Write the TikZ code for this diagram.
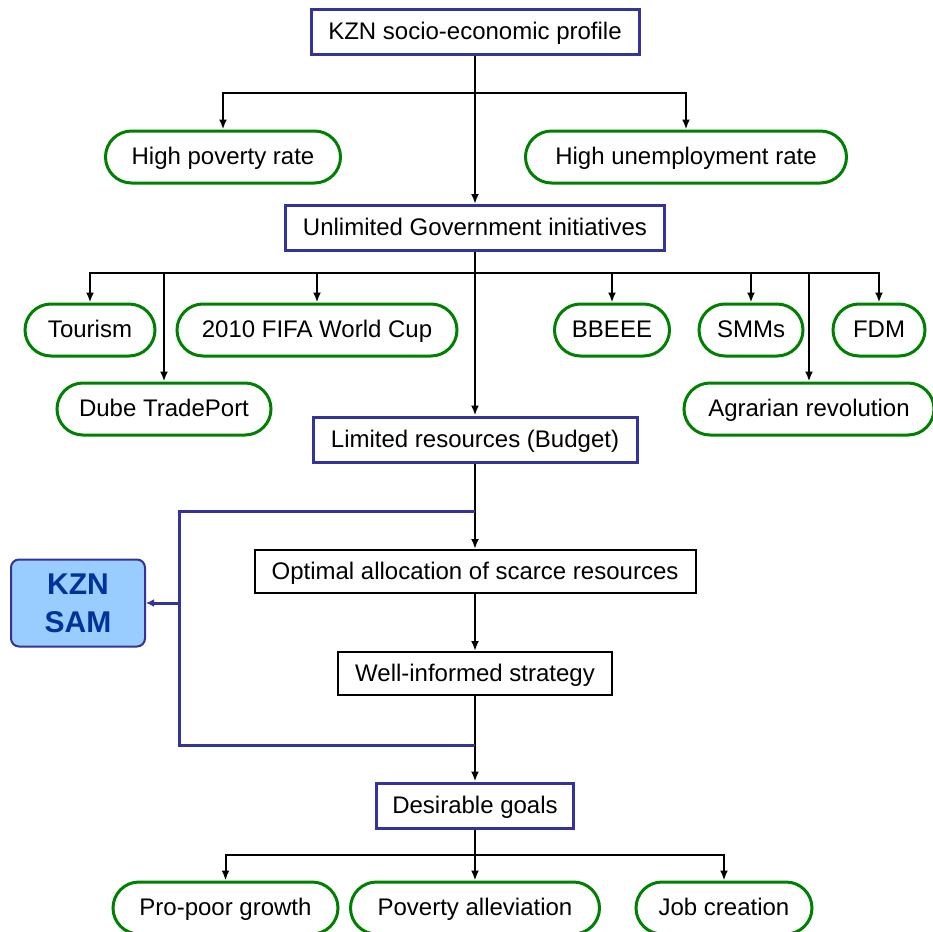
\documentclass[tikz,border=0pt]{standalone}
\usepackage{fontspec}
\setmainfont{Liberation Sans}
\usetikzlibrary{arrows.meta}
\usepackage{xcolor}
\definecolor{boxblue}{RGB}{51,51,153}
\definecolor{pillgreen}{RGB}{0,128,0}
\definecolor{samfill}{RGB}{153,204,255}
\definecolor{samtext}{RGB}{0,51,153}

\begin{document}
\begin{tikzpicture}[x=0.5pt,y=-0.5pt,
    font=\fontsize{12}{14}\selectfont,
    every node/.style={text height=8.8pt,text depth=1.2pt},
    bluebox/.style={draw=boxblue,line width=1.5pt,minimum height=22.5pt,inner sep=0pt},
    blackbox/.style={draw=black,line width=1pt,minimum height=21.5pt,inner sep=0pt},
    pill/.style={draw=pillgreen,line width=1.5pt,rounded corners=13pt,minimum height=26pt,inner sep=0pt},
    arr/.style={-{Latex[length=5pt,width=4pt]},line width=1pt},
    fb/.style={draw=boxblue,line width=1.5pt},
    fbarr/.style={fb,-{Latex[length=4pt,width=4pt]}}]
    \useasboundingbox (0,0) rectangle (933,932);

    \node[bluebox,minimum width=164pt] (prof) at (475,32) {KZN socio-economic profile};
    \node[pill,minimum width=117.5pt] (pov) at (223,157) {High poverty rate};
    \node[pill,minimum width=160.5pt] (unemp) at (686,157) {High unemployment rate};
    \node[bluebox,minimum width=189.5pt] (init) at (475,228) {Unlimited Government initiatives};

    \node[pill,minimum width=65pt] (tour) at (90,330) {Tourism};
    \node[pill,minimum width=107pt] (dube) at (164,409) {Dube TradePort};
    \node[pill,minimum width=140pt] (fifa) at (317,330) {2010 FIFA World Cup};
    \node[pill,minimum width=57.5pt] (bbeee) at (612,330) {BBEEE};
    \node[pill,minimum width=52pt] (smm) at (751,330) {SMMs};
    \node[pill,minimum width=125pt] (agr) at (809,409) {Agrarian revolution};
    \node[pill,minimum width=46pt] (fdm) at (879,330) {FDM};

    \node[bluebox,minimum width=162pt] (lim) at (475,439.5) {Limited resources (Budget)};
    \node[blackbox,minimum width=220.5pt] (opt) at (475,571.5) {Optimal allocation of scarce resources};
    \node[blackbox,minimum width=137pt] (well) at (475,673.5) {Well-informed strategy};
    \node[bluebox,minimum width=98.5pt] (goal) at (475,805.5) {Desirable goals};

    \node[draw=boxblue,fill=samfill,line width=1pt,rounded corners=4pt,minimum width=67pt,minimum height=43.5pt,
          inner sep=0pt,align=center,text height=,text depth=,text=samtext,
          font=\fontsize{15}{19}\selectfont\bfseries] (sam) at (78,603) {KZN\\SAM};

    \node[pill,minimum width=112.5pt] (ppg) at (225.5,908) {Pro-poor growth};
    \node[pill,minimum width=124.5pt] (pal) at (475,908) {Poverty alleviation};
    \node[pill,minimum width=88pt] (job) at (724,908) {Job creation};

    \coordinate (t1) at (475,93);
    \coordinate (t2) at (475,273);
    \coordinate (t3) at (475,855);
    \coordinate (fbA) at (475,511);
    \coordinate (fbB) at (475,745);
    \coordinate (fbL) at (179,603);

    \draw[arr] (prof.south) -- (init.north);
    \draw[arr] (t1) -| (pov.north);
    \draw[arr] (t1) -| (unemp.north);

    \draw[arr] (init.south) -- (lim.north);
    \draw[arr] (t2) -| (tour.north);
    \draw[arr] (t2) -| (dube.north);
    \draw[arr] (t2) -| (fifa.north);
    \draw[arr] (t2) -| (bbeee.north);
    \draw[arr] (t2) -| (smm.north);
    \draw[arr] (t2) -| (agr.north);
    \draw[arr] (t2) -| (fdm.north);

    \draw[arr] (lim.south) -- (opt.north);
    \draw[arr] (opt.south) -- (well.north);
    \draw[arr] (well.south) -- (goal.north);

    \draw[fb] (fbA) -| (fbL) |- (fbB);
    \draw[fbarr] (fbL) -- (sam.east);

    \draw[arr] (t3) -| (ppg.north);
    \draw[arr] (goal.south) -- (pal.north);
    \draw[arr] (t3) -| (job.north);
\end{tikzpicture}
\end{document}
